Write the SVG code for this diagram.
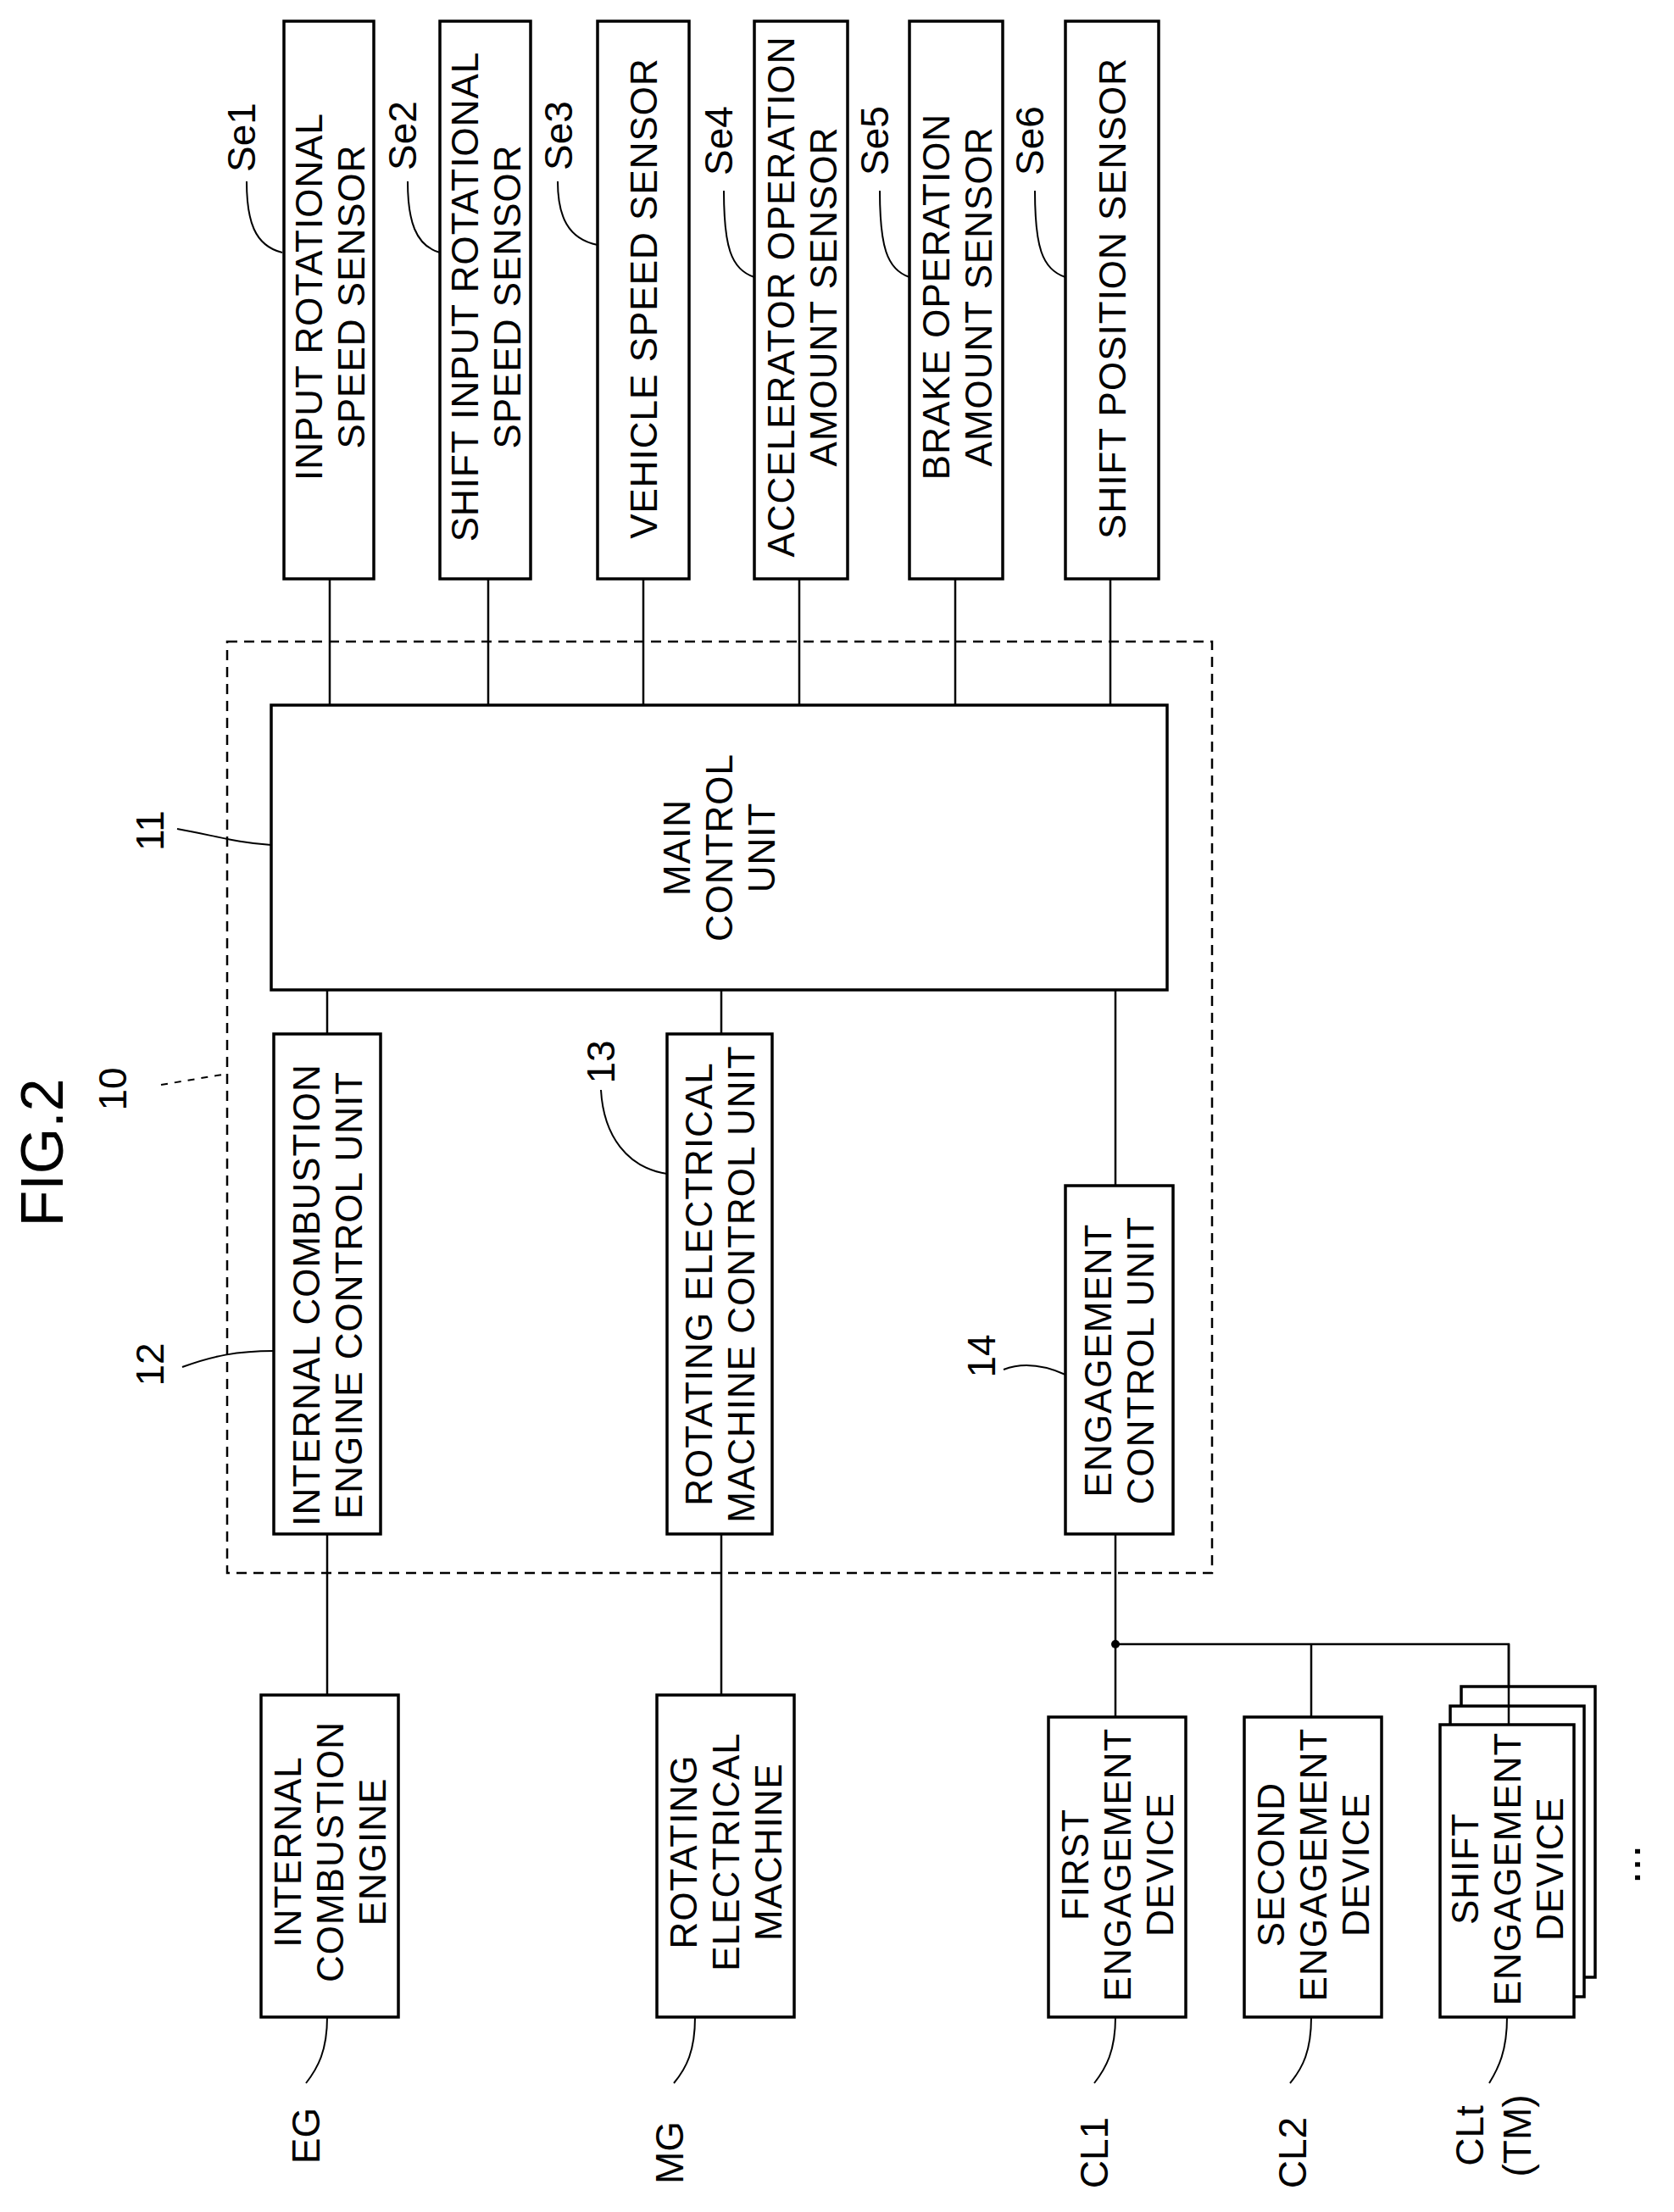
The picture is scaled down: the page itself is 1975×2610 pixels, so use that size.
<svg xmlns="http://www.w3.org/2000/svg" width="1975" height="2610" viewBox="0 0 1975 2610">
<style>
.b{fill:#fff;stroke:#000;stroke-width:3.5}
.l{fill:none;stroke:#000;stroke-width:2.5}
.ld{fill:none;stroke:#000;stroke-width:2}
.t{font-family:"Liberation Sans",Arial,sans-serif;font-size:44px;letter-spacing:1px;fill:#000;text-anchor:middle;dominant-baseline:central}
.r{font-family:"Liberation Sans",Arial,sans-serif;font-size:46px;fill:#000;text-anchor:middle;dominant-baseline:central}
</style>
<rect width="1975" height="2610" fill="#fff"/>
<text class="r" style="font-size:70px" transform="translate(50,1360) rotate(-90)">FIG.2</text>
<g id="n10">
<rect x="268" y="757" width="1162" height="1099" fill="none" stroke="#000" stroke-width="2.5" stroke-dasharray="12,8"/>
<text class="r" transform="translate(133,1285) rotate(-90)">10</text>
<path class="ld" d="M190,1280 L262,1268" stroke-dasharray="8,8"/>
</g>
<g id="connectors">
<path class="l" d="M389,683V832M576,683V832M759,683V832M943,683V832M1127,683V832M1310,683V832"/>
<path class="l" d="M386,1168V1220M851,1168V1220M1316,1168V1399"/>
<path class="l" d="M386,1810V2000M851,1810V2000M1316,1810V2026M1316,1940H1780V2035M1547,1940V2026"/>
<circle cx="1316" cy="1940" r="5" fill="#000"/>
</g>
<g id="se1"><rect class="b" x="335" y="25" width="106" height="658"/>
<text class="t" transform="translate(388,350) rotate(-90)"><tspan x="0" y="-24">INPUT ROTATIONAL</tspan><tspan x="0" y="26">SPEED SENSOR</tspan></text>
<text class="r" transform="translate(285,162) rotate(-90)">Se1</text><path class="ld" d="M291,214 C291,260 300,290 333,298"/></g>
<g id="se2"><rect class="b" x="519" y="25" width="107" height="658"/>
<text class="t" transform="translate(572,350) rotate(-90)"><tspan x="0" y="-24">SHIFT INPUT ROTATIONAL</tspan><tspan x="0" y="26">SPEED SENSOR</tspan></text>
<text class="r" transform="translate(475,160) rotate(-90)">Se2</text><path class="ld" d="M481,214 C481,260 490,290 519,298"/></g>
<g id="se3"><rect class="b" x="705" y="25" width="108" height="658"/>
<text class="t" transform="translate(759,352) rotate(-90)">VEHICLE SPEED SENSOR</text>
<text class="r" transform="translate(659,160) rotate(-90)">Se3</text><path class="ld" d="M658,214 C658,255 670,282 705,289"/></g>
<g id="se4"><rect class="b" x="890" y="25" width="110" height="658"/>
<text class="t" transform="translate(945,350) rotate(-90)"><tspan x="0" y="-24">ACCELERATOR OPERATION</tspan><tspan x="0" y="26">AMOUNT SENSOR</tspan></text>
<text class="r" transform="translate(848,166) rotate(-90)">Se4</text><path class="ld" d="M854,225 C854,290 862,318 890,327"/></g>
<g id="se5"><rect class="b" x="1073" y="25" width="110" height="658"/>
<text class="t" transform="translate(1128,350) rotate(-90)"><tspan x="0" y="-24">BRAKE OPERATION</tspan><tspan x="0" y="26">AMOUNT SENSOR</tspan></text>
<text class="r" transform="translate(1032,166) rotate(-90)">Se5</text><path class="ld" d="M1038,225 C1038,290 1046,318 1073,327"/></g>
<g id="se6"><rect class="b" x="1257" y="25" width="110" height="658"/>
<text class="t" transform="translate(1312,352) rotate(-90)">SHIFT POSITION SENSOR</text>
<text class="r" transform="translate(1215,166) rotate(-90)">Se6</text><path class="ld" d="M1221,225 C1221,290 1229,318 1257,327"/></g>
<g id="n11"><rect class="b" x="320" y="832" width="1057" height="336"/>
<text class="t" transform="translate(848,1000) rotate(-90)"><tspan x="0" y="-50">MAIN</tspan><tspan x="0" y="0">CONTROL</tspan><tspan x="0" y="50">UNIT</tspan></text>
<text class="r" transform="translate(177,980) rotate(-90)">11</text><path class="ld" d="M209,978 C250,985 280,995 320,997"/></g>
<g id="n12"><rect class="b" x="323" y="1220" width="126" height="590"/>
<text class="t" transform="translate(386,1528) rotate(-90)"><tspan x="0" y="-25">INTERNAL COMBUSTION</tspan><tspan x="0" y="25">ENGINE CONTROL UNIT</tspan></text>
<text class="r" transform="translate(177,1610) rotate(-90)">12</text><path class="ld" d="M215,1613 C250,1600 280,1594 323,1594"/></g>
<g id="n13"><rect class="b" x="787" y="1220" width="124" height="590"/>
<text class="t" transform="translate(849,1515) rotate(-90)"><tspan x="0" y="-25">ROTATING ELECTRICAL</tspan><tspan x="0" y="25">MACHINE CONTROL UNIT</tspan></text>
<text class="r" transform="translate(709,1253) rotate(-90)">13</text><path class="ld" d="M709,1286 C712,1340 740,1378 787,1385"/></g>
<g id="n14"><rect class="b" x="1257" y="1399" width="127" height="411"/>
<text class="t" transform="translate(1320,1605) rotate(-90)"><tspan x="0" y="-25">ENGAGEMENT</tspan><tspan x="0" y="25">CONTROL UNIT</tspan></text>
<text class="r" transform="translate(1158,1600) rotate(-90)">14</text><path class="ld" d="M1184,1616 C1205,1608 1230,1610 1257,1622"/></g>
<g id="eg"><rect class="b" x="308" y="2000" width="162" height="380"/>
<text class="t" transform="translate(389,2185) rotate(-90)"><tspan x="0" y="-50">INTERNAL</tspan><tspan x="0" y="0">COMBUSTION</tspan><tspan x="0" y="50">ENGINE</tspan></text>
<text class="r" transform="translate(361,2520) rotate(-90)">EG</text><path class="ld" d="M386,2380 C386,2420 375,2440 361,2458"/></g>
<g id="mg"><rect class="b" x="775" y="2000" width="162" height="380"/>
<text class="t" transform="translate(856,2185) rotate(-90)"><tspan x="0" y="-50">ROTATING</tspan><tspan x="0" y="0">ELECTRICAL</tspan><tspan x="0" y="50">MACHINE</tspan></text>
<text class="r" transform="translate(790,2540) rotate(-90)">MG</text><path class="ld" d="M820,2380 C820,2420 810,2440 795,2458"/></g>
<g id="cl1"><rect class="b" x="1237" y="2026" width="162" height="354"/>
<text class="t" transform="translate(1318,2200) rotate(-90)"><tspan x="0" y="-50">FIRST</tspan><tspan x="0" y="0">ENGAGEMENT</tspan><tspan x="0" y="50">DEVICE</tspan></text>
<text class="r" transform="translate(1291,2540) rotate(-90)">CL1</text><path class="ld" d="M1316,2380 C1316,2420 1305,2440 1291,2458"/></g>
<g id="cl2"><rect class="b" x="1468" y="2026" width="162" height="354"/>
<text class="t" transform="translate(1549,2200) rotate(-90)"><tspan x="0" y="-50">SECOND</tspan><tspan x="0" y="0">ENGAGEMENT</tspan><tspan x="0" y="50">DEVICE</tspan></text>
<text class="r" transform="translate(1525,2540) rotate(-90)">CL2</text><path class="ld" d="M1547,2380 C1547,2420 1537,2440 1522,2458"/></g>
<g id="clt">
<rect class="b" x="1724" y="1990" width="158" height="343"/>
<rect class="b" x="1711" y="2013" width="158" height="343"/>
<rect class="b" x="1699" y="2035" width="158" height="345"/>
<text class="t" transform="translate(1778,2205) rotate(-90)"><tspan x="0" y="-50">SHIFT</tspan><tspan x="0" y="0">ENGAGEMENT</tspan><tspan x="0" y="50">DEVICE</tspan></text>
<text class="r" transform="translate(1762,2520) rotate(-90)"><tspan x="0" y="-28">CLt</tspan><tspan x="0" y="28">(TM)</tspan></text>
<path class="ld" d="M1778,2380 C1778,2420 1768,2440 1757,2458"/>
<path class="l" d="M1780,1940V2035"/>
</g>
<text class="r" style="font-size:56px" transform="translate(1915,2200) rotate(-90)">...</text>
</svg>
